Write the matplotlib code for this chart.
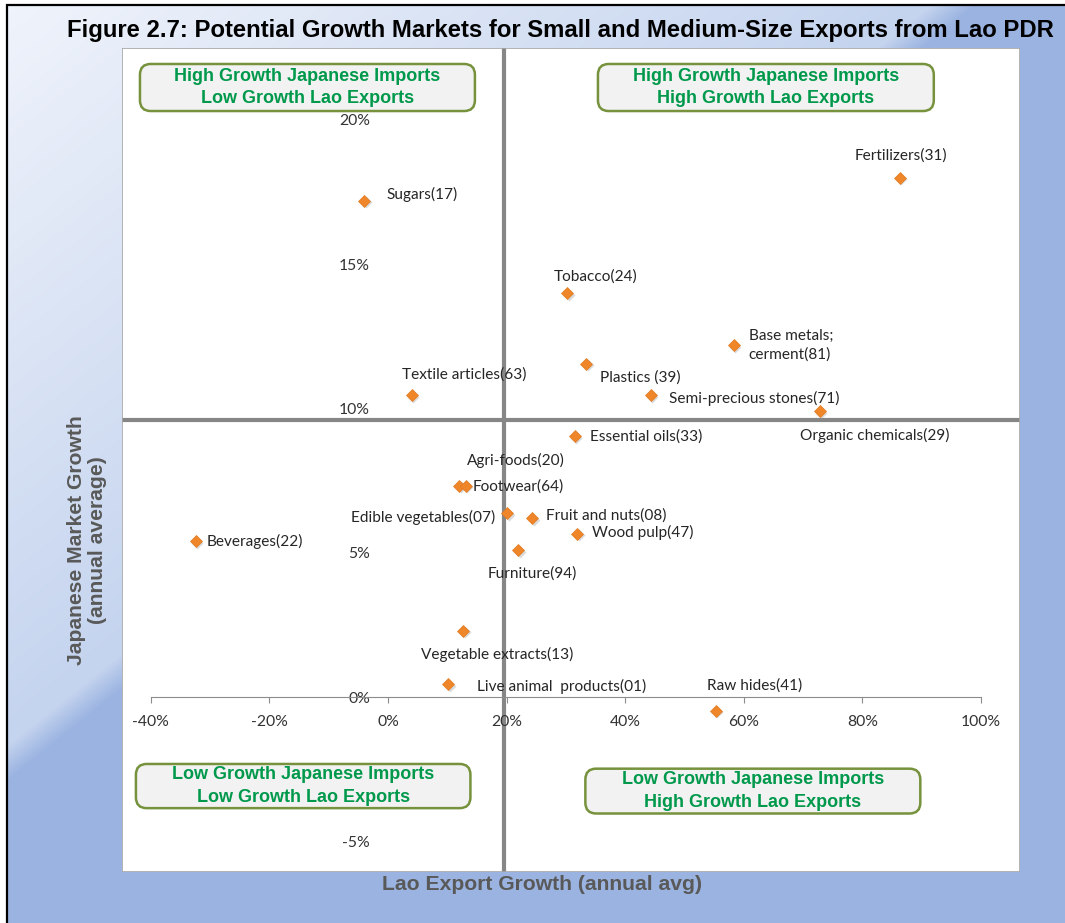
import numpy as np
import matplotlib
matplotlib.use("Agg")
import matplotlib.pyplot as plt
from matplotlib.patches import FancyBboxPatch, Rectangle
from matplotlib.ticker import FuncFormatter
from matplotlib.transforms import offset_copy

plt.rcParams["axes.unicode_minus"] = False

# ------------------------------------------------------------------
# Data
# ------------------------------------------------------------------
products = [
    "Fertilizers(31)", "Sugars(17)", "Tobacco(24)", "Base metals;\ncerment(81)",
    "Plastics (39)", "Textile articles(63)", "Semi-precious stones(71)",
    "Organic chemicals(29)", "Essential oils(33)", "Agri-foods(20)",
    "Footwear(64)", "Edible vegetables(07)", "Fruit and nuts(08)",
    "Wood pulp(47)", "Beverages(22)", "Furniture(94)",
    "Vegetable extracts(13)", "Live animal  products(01)", "Raw hides(41)",
]
lao_export_growth = [86.3, -4.0, 30.2, 58.3, 33.4, 4.0, 44.3, 72.8, 31.5, 12.0,
                     13.1, 20.1, 24.3, 31.9, -32.4, 22.0, 12.7, 10.2, 55.3]
japan_import_growth = [18.0, 17.2, 14.0, 12.2, 11.55, 10.47, 10.47, 9.9, 9.05, 7.32,
                       7.32, 6.38, 6.2, 5.66, 5.41, 5.09, 2.3, 0.46, -0.47]

x_ticks = [-40, -20, 0, 20, 40, 60, 80, 100]
y_ticks = [-5, 0, 5, 10, 15, 20]
x_split = 19.5   # quadrant divider on Lao export growth
y_split = 9.6    # quadrant divider on Japanese import growth

quadrants = [
    "High Growth Japanese Imports\nLow Growth Lao Exports",
    "High Growth Japanese Imports\nHigh Growth Lao Exports",
    "Low Growth Japanese Imports\nLow Growth Lao Exports",
    "Low Growth Japanese Imports\nHigh Growth Lao Exports",
]

# label placement: (dx, dy in points, ha)
label_pos = [
    (0.7, 15.8, "center"), (15.8, 4.3, "left"), (20.5, 12.2, "center"),
    (10.8, 0, "left"), (10.1, -10.1, "left"), (-7.2, 14.4, "left"),
    (13, -2.2, "left"), (-14.4, -17.3, "left"), (10.8, -0.7, "left"),
    (5.8, 18.7, "left"), (5, -0.7, "left"), (-8.6, -2.9, "right"),
    (10.1, 2.2, "left"), (10.8, 0.7, "left"), (8, 0, "left"),
    (-22.3, -16.6, "left"), (-30.2, -17.3, "left"), (20.2, -1.4, "left"),
    (-6.5, 18, "left"),
]
# quadrant box extents in axes fraction: (x0, y0, x1, y1)
box_pos = [
    (0.020, 0.9235, 0.393, 0.9806),
    (0.530, 0.9235, 0.904, 0.9806),
    (0.0155, 0.0775, 0.388, 0.1311),
    (0.516, 0.0710, 0.889, 0.1254),
]

W, H = 1065, 923
fig = plt.figure(figsize=(W / 100, H / 100), dpi=100, facecolor="white")

# --- background gradient -------------------------------------------
bg = fig.add_axes([7 / W, 0, 1 - 7 / W, 1 - 5 / H])
yy, xx = np.mgrid[0:H, 0:W].astype(float)
d = xx + yy * 1.25
c0 = np.array([0.94, 0.955, 0.985])
c1 = np.array([0.77, 0.83, 0.935])
c2 = np.array([0.604, 0.702, 0.882])
t = np.clip(d / 930, 0, 1)[..., None]
img = c0 + (c1 - c0) * t
blend = np.clip((d - 930) / 45, 0, 1)[..., None]
img = img * (1 - blend) + c2 * blend
bg.imshow(img, aspect="auto", interpolation="bilinear")
bg.axis("off")
fig.add_artist(Rectangle((7 / W, -0.1), 1.1, 1 - 5 / H + 0.1,
                         transform=fig.transFigure, fill=False,
                         ec="black", lw=1.6))

# --- main plot area -------------------------------------------------
ax = fig.add_axes([122 / W, (H - 872) / H, (1020 - 122) / W, (872 - 48) / H])
ax.set_facecolor("white")
ax.set_xlim(-44.86, 106.6)
ax.set_ylim(-6.05, 22.49)

for side in ["top", "right"]:
    ax.spines[side].set_visible(False)
ax.spines["left"].set_position(("data", 0))
ax.spines["left"].set_visible(False)
ax.spines["bottom"].set_position(("data", 0))
ax.spines["bottom"].set_bounds(x_ticks[0], x_ticks[-1])
ax.spines["bottom"].set_color("#8c8c8c")
ax.add_patch(Rectangle((0, 0), 1, 1, transform=ax.transAxes, fill=False,
                       ec="#a6a6a6", lw=1.2, zorder=5))

ax.set_xticks(x_ticks)
ax.set_yticks(y_ticks)
pct = FuncFormatter(lambda v, _: f"{v:.0f}%")
ax.xaxis.set_major_formatter(pct)
ax.yaxis.set_major_formatter(pct)
ax.tick_params(axis="x", direction="out", length=4, color="#8c8c8c",
               pad=8.5, labelsize=11.3, labelcolor="#333333")
ax.tick_params(axis="y", length=0, pad=13, labelsize=11.3, labelcolor="#333333")
for lbl in ax.get_xticklabels() + ax.get_yticklabels():
    lbl.set_fontfamily("Lato")

# quadrant dividers
ax.axvline(x_split, color="#868686", lw=3, zorder=1)
ax.axhline(y_split, color="#868686", lw=3, zorder=1)

# points with a soft shadow
shadow = offset_copy(ax.transData, fig=fig, x=1.5, y=-1.5, units="dots")
ax.plot(lao_export_growth, japan_import_growth, "D", ms=6.2, color="#9a9a9a",
        alpha=0.35, mec="none", transform=shadow, zorder=3)
ax.plot(lao_export_growth, japan_import_growth, "D", ms=6.2, color="#f0862a",
        mec="#e07a22", mew=0.5, zorder=4)

for name, xv, yv, (dx, dy, ha) in zip(products, lao_export_growth,
                                      japan_import_growth, label_pos):
    ax.annotate(name, (xv, yv), xytext=(dx, dy), textcoords="offset points",
                ha=ha, va="center", fontsize=11.1, family="Lato",
                color="#262626", linespacing=1.38, zorder=6)

# quadrant captions
for text, (x0, y0, x1, y1) in zip(quadrants, box_pos):
    ax.add_patch(FancyBboxPatch((x0, y0), x1 - x0, y1 - y0,
                                boxstyle="round,pad=0,rounding_size=0.012",
                                transform=ax.transAxes, fc="#f2f2f2",
                                ec="#76923c", lw=1.8, zorder=7,
                                mutation_aspect=898 / 824))
    ax.text((x0 + x1) / 2, (y0 + y1) / 2, text, transform=ax.transAxes,
            ha="center", va="center", fontsize=13, fontweight="bold",
            family="Liberation Sans", color="#00994c", linespacing=1.45,
            zorder=8)

# titles
fig.text(560 / W, 1 - 31 / H,
         "Figure 2.7: Potential Growth Markets for Small and Medium-Size Exports from Lao PDR",
         ha="center", va="center", fontsize=17.2, fontweight="bold",
         family="Liberation Sans", color="black")
fig.text(541.5 / W, 1 - 885 / H, "Lao Export Growth (annual avg)",
         ha="center", va="center", fontsize=15.2, fontweight="bold",
         family="Liberation Sans", color="#595959")
fig.text(87 / W, 1 - 540 / H, "Japanese Market Growth\n(annual average)",
         ha="center", va="center", rotation=90, fontsize=15.2,
         fontweight="bold", family="Liberation Sans", color="#595959",
         multialignment="center", linespacing=1.15)

fig.savefig("out.png", dpi=100)
